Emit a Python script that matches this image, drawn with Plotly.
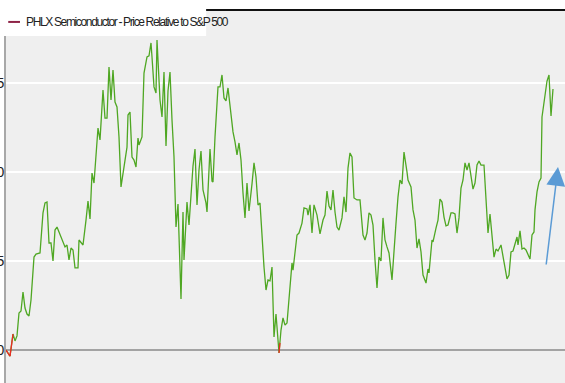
import plotly.graph_objects as go

# Time index (weeks from start) and relative-price values
t = [0, 4, 7, 9, 11, 13, 15, 17, 19, 21, 23, 25, 28, 30, 34, 37, 39, 41, 43, 45,
     47, 49, 51, 53, 55, 57, 59, 61, 63, 65, 67, 69, 72, 73, 76, 77, 80, 82, 84, 86,
     88, 90, 92, 94, 97, 99, 101, 103, 105, 107, 109, 111, 113, 115, 117, 119, 121, 122, 124, 126,
     128, 130, 132, 133, 136, 138, 141, 143, 145, 146, 148, 150, 151, 154, 156, 158, 160, 162, 164, 166,
     168, 170, 172, 175, 177, 178, 181, 183, 185, 187, 189, 191, 193, 195, 197, 200, 201, 204, 206, 207,
     209, 211, 212, 214, 216, 218, 220, 222, 225, 227, 229, 231, 233, 235, 237, 239, 241, 243, 246, 248,
     250, 252, 254, 256, 258, 260, 262, 264, 266, 268, 270, 273, 274, 275, 277, 279, 281, 283, 286, 287, 290,
     291, 293, 296, 298, 301, 302, 304, 306, 308, 311, 313, 314, 317, 319, 321, 323, 325, 327, 329, 331,
     333, 336, 338, 340, 342, 344, 346, 348, 351, 354, 357, 359, 361, 363, 365, 367, 369, 371, 373, 375,
     377, 379, 381, 383, 386, 388, 390, 392, 394, 396, 398, 401, 402, 405, 407, 409, 411, 413, 415, 417,
     420, 422, 423, 426, 427, 430, 432, 434, 436, 438, 440, 442, 445, 447, 449, 451, 453, 455, 457, 459,
     461, 463, 465, 467, 469, 471, 473, 475, 478, 480, 482, 484, 486, 488, 490, 492, 495, 497, 499, 501,
     503, 505, 507, 509, 511, 512, 514, 516, 518, 520, 522, 524, 526, 528, 529, 531, 533, 535, 536, 538,
     540, 541, 543, 545, 547]

values = [0.00, -0.34, 0.90, 0.51, 0.79, 2.08, 2.19, 3.26, 2.36, 2.02, 1.91, 2.81, 5.22, 5.39, 5.45, 7.70, 8.26, 8.31, 6.01, 6.01,
          5.00, 6.74, 6.91, 6.63, 6.24, 6.07, 5.79, 5.90, 5.06, 5.73, 5.62, 4.61, 4.61, 6.18, 5.96, 5.90, 7.30, 8.37, 7.36, 9.94,
          9.38, 11.24, 12.47, 11.80, 14.61, 13.03, 13.03, 15.90, 14.04, 15.73, 13.93, 13.65, 11.97, 9.16, 10.00, 10.67, 11.40, 13.20, 13.37, 10.84,
          10.67, 10.28, 11.91, 11.52, 11.97, 15.56, 16.46, 16.52, 17.25, 16.46, 14.78, 14.44, 17.42, 14.04, 13.09, 15.62, 11.46, 14.55, 15.62, 12.92,
          10.84, 6.91, 8.20, 2.87, 7.75, 5.06, 8.31, 7.02, 8.82, 10.34, 11.29, 8.15, 10.11, 11.18, 8.99, 8.26, 7.75, 11.29, 9.49, 9.44,
          11.97, 14.21, 14.78, 14.78, 15.45, 14.16, 13.99, 14.72, 13.37, 12.25, 11.69, 10.96, 11.63, 10.67, 8.82, 7.42, 9.38, 7.81, 9.33, 10.51,
          9.72, 8.15, 8.26, 6.18, 4.66, 3.37, 3.93, 3.88, 4.66, 0.73, 2.02, -0.17, 0.40, 1.12, 1.80, 1.40, 1.52, 2.81, 4.89, 4.49, 6.01,
          6.46, 6.57, 7.13, 7.98, 7.92, 7.58, 8.15, 6.57, 8.15, 7.58, 6.74, 6.52, 7.30, 7.58, 8.93, 8.09, 7.87, 8.99, 7.75, 6.91,
          6.74, 7.42, 8.60, 7.75, 10.22, 11.07, 10.84, 8.54, 8.43, 8.43, 6.46, 6.18, 6.57, 7.70, 7.58, 7.02, 5.06, 3.48, 5.22, 5.00,
          7.42, 6.18, 5.79, 5.45, 3.93, 5.79, 7.13, 8.60, 9.55, 9.33, 11.12, 10.00, 9.55, 9.16, 7.87, 7.30, 5.73, 6.24, 5.51, 4.21,
          3.76, 4.55, 4.33, 6.18, 6.07, 6.85, 7.30, 8.48, 8.31, 7.47, 6.97, 7.02, 7.70, 7.70, 7.64, 6.57, 7.42, 9.10, 9.55, 10.51,
          10.11, 10.51, 9.72, 9.04, 9.38, 10.39, 10.62, 10.39, 10.39, 8.60, 6.57, 7.64, 6.57, 5.22, 5.67, 5.56, 5.90, 5.22, 4.66, 3.99,
          4.21, 5.51, 5.56, 5.90, 6.35, 5.90, 6.69, 5.67, 5.73, 5.62, 5.34, 5.11, 6.46, 6.63, 7.87, 8.88, 9.44, 9.66, 13.09, 13.88,
          14.61, 15.11, 15.45, 13.15, 14.66]

y_ticks = [0, 5, 10, 15]
y_tick_labels = ["0", "5", "10", "15"]
series_name = "PHLX Semiconductor - Price Relative to S&P 500"

# arrow (trend annotation) tail and head in data units
arrow_tail = (540, 4.72)
arrow_head = (552, 10.28)

GREEN = "#4fa723"
RED = "#ee2a24"

fig = go.Figure()
fig.add_trace(go.Scatter(x=t, y=values, mode="lines", line=dict(color=GREEN, width=1.3),
                         showlegend=False, hoverinfo="skip"))

# red segments wherever a segment starts at or below zero
rx, ry = [], []
for i in range(len(values) - 1):
    if values[i] <= 0:
        rx += [t[i], t[i + 1], None]
        ry += [values[i], values[i + 1], None]
fig.add_trace(go.Scatter(x=rx, y=ry, mode="lines", line=dict(color=RED, width=1.3),
                         showlegend=False, hoverinfo="skip"))

fig.add_annotation(x=arrow_head[0], y=arrow_head[1], ax=arrow_tail[0], ay=arrow_tail[1],
                   xref="x", yref="y", axref="x", ayref="y", showarrow=True, text="",
                   arrowhead=2, arrowsize=2.5, arrowwidth=1.5, arrowcolor="#5b9bd5")

# top border line
fig.add_shape(type="line", xref="paper", yref="paper", x0=0, x1=1, y0=1, y1=1,
              line=dict(color="#111111", width=2))

# legend box
fig.add_shape(type="rect", xref="paper", yref="paper", x0=-0.012, x1=0.358, y0=0.93, y1=1.03,
              fillcolor="white", line=dict(width=0))
fig.add_shape(type="line", xref="paper", yref="paper", x0=0.004, x1=0.025, y0=0.968, y1=0.968,
              line=dict(color="#8e2346", width=2))
fig.add_annotation(x=0.033, y=0.968, xref="paper", yref="paper",
                   text='<span style="letter-spacing:-1.35px">' + series_name + '</span>',
                   showarrow=False, xanchor="left", yanchor="middle",
                   font=dict(family="Liberation Sans Narrow, Arial Narrow, Liberation Sans", size=12, color="#222"))

fig.update_layout(
    width=565, height=383,
    margin=dict(l=6, r=0, t=10, b=0, autoexpand=False),
    paper_bgcolor="white", plot_bgcolor="#efefef",
    xaxis=dict(range=[0, 559], showgrid=False, zeroline=False, showticklabels=False,
               showline=False, automargin=False),
    yaxis=dict(range=[-1.854, 19.10], tickvals=y_ticks, ticktext=y_tick_labels,
               showgrid=True, gridcolor="white", gridwidth=2,
               zeroline=True, zerolinecolor="#a3a3a3", zerolinewidth=2,
               showline=True, linecolor="#a8a8a8", linewidth=2,
               tickfont=dict(family="Liberation Sans, Arial", size=14, color="#222"),
               ticks="", ticklabelstandoff=-3, automargin=False),
    showlegend=False,
)

fig.write_html("out.html")
